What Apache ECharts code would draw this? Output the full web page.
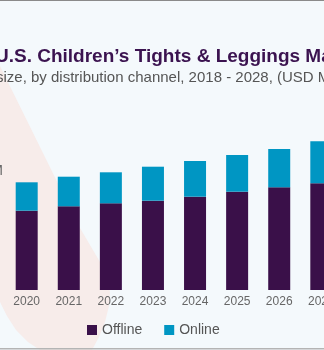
<!DOCTYPE html>
<html>
<head>
<meta charset="utf-8">
<script src="https://cdn.jsdelivr.net/npm/echarts@6/dist/echarts.min.js"></script>
<style>
  html, body { margin: 0; padding: 0; background: #f4f9fc; }
  #chart { width: 324px; height: 350px; }
</style>
</head>
<body>
<div id="chart"></div>
<script>
// Market size by distribution channel (USD Million)
const years = ['2020', '2021', '2022', '2023', '2024', '2025', '2026', '2027'];
const offline = [79.3, 83.7, 86.7, 89.3, 93.3, 98.3, 102.7, 106.7];
const online = [28.4, 29.6, 31.0, 34.0, 35.7, 36.7, 38.3, 42.0];
const seriesNames = ['Offline', 'Online'];
const titleText = 'U.S. Children\u2019s Tights & Leggings Market';
const subtitleText = 'size, by distribution channel, 2018 - 2028, (USD Million)';

const COLORS = { offline: '#3a1049', online: '#0096c3' };

const chart = echarts.init(document.getElementById('chart'), null, { renderer: 'canvas' });

chart.setOption({
  backgroundColor: '#f4f9fc',
  animation: false,
  graphic: [
    // soft decorative shape behind the bars
    {
      type: 'polygon', z: -10, silent: true,
      shape: {
        points: [[0, 66], [80, 228], [90, 245], [100, 262], [107, 278], [110, 292], [109, 306],
                 [105, 322], [99, 337], [92, 350], [40, 350], [28, 342], [16, 330], [7, 316], [0, 302]]
      },
      style: { fill: '#f7ecea' }
    },
    // frame lines
    { type: 'rect', z: 10, silent: true, shape: { x: 0, y: 0, width: 324, height: 1 }, style: { fill: '#8a8a8a' } },
    { type: 'rect', z: 10, silent: true, shape: { x: 0, y: 348, width: 324, height: 1.5 }, style: { fill: '#b4b4b4' } },
    {
      type: 'text', z: 10, x: -5, y: 57,
      style: {
        text: titleText, font: 'bold 19px "Liberation Sans", Arial, sans-serif',
        fill: '#3b1350', align: 'left', verticalAlign: 'middle', textAlign: 'left', textVerticalAlign: 'middle'
      }
    },
    {
      type: 'text', z: 10, x: -4, y: 78,
      style: {
        text: subtitleText, font: '15px "Liberation Sans", Arial, sans-serif',
        fill: '#555555', align: 'left', verticalAlign: 'middle', textAlign: 'left', textVerticalAlign: 'middle'
      }
    },
    {
      type: 'text', z: 10, x: 3, y: 171,
      style: {
        text: 'M', font: '14px "Liberation Sans", Arial, sans-serif',
        fill: '#666666', align: 'right', verticalAlign: 'middle', textAlign: 'right', textVerticalAlign: 'middle'
      }
    }
  ],
  legend: {
    data: seriesNames,
    left: 87,
    top: 323,
    padding: 0,
    icon: 'rect',
    itemWidth: 10,
    itemHeight: 10,
    itemGap: 22,
    textStyle: { color: '#555555', fontSize: 14, fontFamily: '"Liberation Sans", Arial, sans-serif' }
  },
  grid: { left: 5.65, width: 336.7, top: 90, bottom: 60, containLabel: false, outerBoundsMode: 'none' },
  xAxis: {
    type: 'category',
    data: years,
    axisLine: { show: false },
    axisTick: { show: false },
    axisLabel: { color: '#666666', fontSize: 12, margin: 6, fontFamily: '"Liberation Sans", Arial, sans-serif' }
  },
  yAxis: {
    type: 'value', min: 0, max: 200, show: false,
    splitLine: { show: false }
  },
  series: [
    {
      name: seriesNames[0], type: 'bar', stack: 'total', barWidth: 22,
      itemStyle: { color: COLORS.offline },
      data: offline
    },
    {
      name: seriesNames[1], type: 'bar', stack: 'total', barWidth: 22,
      itemStyle: { color: COLORS.online },
      data: online
    }
  ]
});
</script>
</body>
</html>
